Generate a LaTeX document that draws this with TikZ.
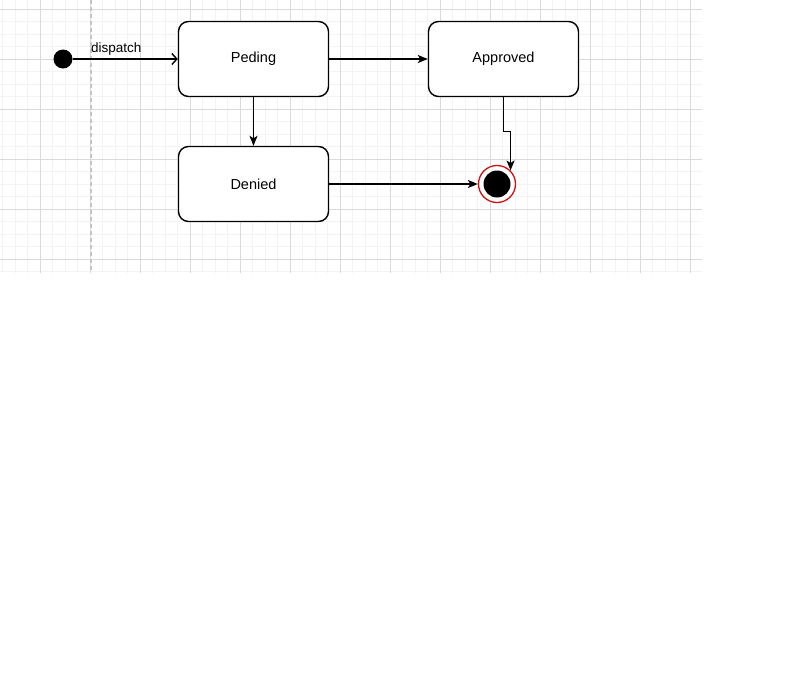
\documentclass[tikz,border=0pt]{standalone}
\usepackage{fontspec}
\setmainfont{Liberation Sans}
\usetikzlibrary{arrows.meta,calc}
\definecolor{minorgrid}{HTML}{F3F3F3}
\definecolor{majorgrid}{HTML}{DADADA}
\definecolor{pagebreak}{HTML}{C4C4C4}
\definecolor{finalred}{HTML}{D01010}
\tikzset{
  statebox/.style={draw=black, line width=1.4pt, rounded corners=10pt, fill=white,
    minimum width=150pt, minimum height=75pt, inner sep=0pt, font=\fontsize{14.5}{17}\selectfont},
  conn/.style={draw=black, line width=1.4pt, -{Stealth[length=10pt,width=8pt,inset=2.5pt]}},
  openconn/.style={draw=black, line width=1.4pt, -{Straight Barb[length=5pt,width=11pt,line width=1.4pt]}},
  lbl/.style={font=\fontsize{13.5}{16}\selectfont, inner sep=0pt}
}
\begin{document}
\begin{tikzpicture}[x=1pt,y=-1pt]
\useasboundingbox (0,0) rectangle (803,672);
% grid
\foreach \i in {0,...,55} {
  \draw[minorgrid, line width=0.7pt] ({2.5+12.5*\i},0) -- ({2.5+12.5*\i},273);
}
\foreach \j in {0,...,21} {
  \draw[minorgrid, line width=0.7pt] (0,{9+12.5*\j}) -- (702,{9+12.5*\j});
}
\foreach \i in {0,...,13} {
  \draw[majorgrid, line width=0.9pt] ({40+50*\i},0) -- ({40+50*\i},273);
}
\foreach \j in {0,...,5} {
  \draw[majorgrid, line width=0.9pt] (0,{9+50*\j}) -- (702,{9+50*\j});
}
\draw[pagebreak, line width=1.2pt, dash pattern=on 4pt off 3pt] (91,0) -- (91,273);
% nodes
\node[circle, fill=black, minimum size=19pt, inner sep=0pt] (init) at (63,59) {};
\node[statebox] (peding) at (253.5,59) {Peding};
\node[statebox] (approved) at (503.5,59) {Approved};
\node[statebox] (denied) at (253.5,184) {Denied};
\node[circle, draw=finalred, line width=1.3pt, fill=white, minimum size=37pt, inner sep=0pt] (final) at (497,184) {};
\node[circle, fill=black, minimum size=27pt, inner sep=0pt] (finalcore) at (final.center) {};
% connectors
\draw[openconn] (init) -- (peding.west);
\node[lbl, anchor=base west] (displbl) at (91,52) {dispatch};
\draw[conn] (peding.east) -- (approved.west);
\draw[conn] (peding.south) -- (denied.north);
\draw[conn] (denied.east) -- (final.west);
\draw[conn] (approved.south) -- ++(0,34) -| (final.north east);
\end{tikzpicture}
\end{document}
